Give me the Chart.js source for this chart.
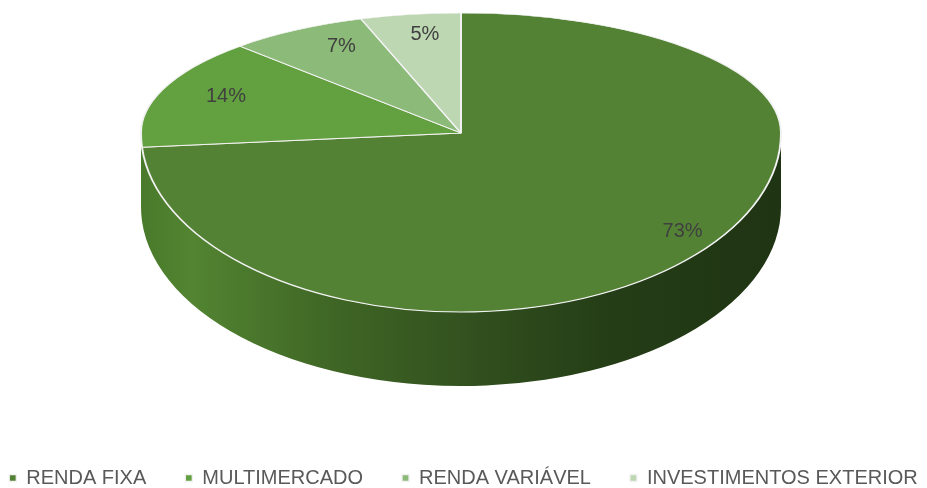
<!DOCTYPE html>
<html>
<head>
<meta charset="utf-8">
<script src="https://cdn.jsdelivr.net/npm/chart.js@4.4.1/dist/chart.umd.min.js"></script>
<style>
html,body{margin:0;padding:0;background:#ffffff;}
#wrap{width:927px;height:488px;position:relative;}
</style>
</head>
<body>
<div id="wrap"><canvas id="c"></canvas></div>
<script>
// ---- data ----
const categories = ['RENDA FIXA', 'MULTIMERCADO', 'RENDA VARIÁVEL', 'INVESTIMENTOS EXTERIOR'];
const shares = [73, 14, 7, 5];
const sliceColors = ['#548235', '#63a03f', '#8cba78', '#bdd7b3'];
const sideColors = ['#2f4d1d', '#4c7d2d', '#6f9a5e', '#9bb891'];

// ---- 3D look (geometry of the tilted disc) ----
const CX = 461, CY = 133, RX = 320, RY_UP = 120, RY_DOWN = 179, DEPTH = 74;

function sideFill(ctx, i) {
  if (i !== 0) return sideColors[i];
  const g = ctx.createLinearGradient(CX - RX, 0, CX + RX, 0);
  g.addColorStop(0, '#497a2b');
  g.addColorStop(0.08, '#528431');
  g.addColorStop(0.3, '#3f6625');
  g.addColorStop(0.5, '#33521f');
  g.addColorStop(0.72, '#253e17');
  g.addColorStop(1, '#1f3413');
  return g;
}

const pie3d = {
  id: 'pie3d',
  beforeDatasetsDraw(chart) {
    const ctx = chart.ctx;
    const meta = chart.getDatasetMeta(0);
    const a0 = meta.data[0];
    const R = a0.outerRadius, ox = a0.x, oy = a0.y;
    const W = chart.width, H = chart.height;

    // side wall (front half only: angles 0..PI)
    meta.data.forEach((arc, i) => {
      const s = Math.max(arc.startAngle, 0);
      const e = Math.min(arc.endAngle, Math.PI);
      if (e <= s) return;
      ctx.save();
      ctx.beginPath();
      ctx.ellipse(CX, CY, RX, RY_DOWN, 0, s, e, false);
      ctx.ellipse(CX, CY + DEPTH, RX, RY_DOWN, 0, e, s, true);
      ctx.closePath();
      ctx.fillStyle = sideFill(ctx, i);
      ctx.fill();
      ctx.restore();
    });

    // top face: far half and near half drawn by the library with different tilt
    const halves = [[0, CY, RY_UP], [CY, H - CY, RY_DOWN]];
    halves.forEach(([top, h, ry]) => {
      ctx.save();
      ctx.beginPath();
      ctx.rect(0, top, W, h);
      ctx.clip();
      ctx.translate(CX, CY);
      ctx.scale(RX / R, ry / R);
      ctx.translate(-ox, -oy);
      meta.controller.draw();
      ctx.restore();
    });

    // data labels
    ctx.save();
    ctx.font = '20px "Liberation Sans", Arial, sans-serif';
    ctx.fillStyle = '#404040';
    ctx.textAlign = 'center';
    ctx.textBaseline = 'middle';
    meta.data.forEach((arc, i) => {
      const t = (arc.startAngle + arc.endAngle) / 2;
      const r = 0.85;
      const u = r * Math.cos(t), v = r * Math.sin(t);
      const w = 1 - 0.2 * v;
      const x = CX + 314 * u / w;
      const y = CY + 5 + 143.6 * v / w;
      ctx.fillText(shares[i] + '%', x, y);
    });
    ctx.restore();
    return false;
  }
};

new Chart(document.getElementById('c'), {
  type: 'pie',
  data: {
    labels: categories,
    datasets: [{
      data: shares,
      backgroundColor: sliceColors,
      borderColor: '#f2f2f2',
      borderWidth: 1.3
    }]
  },
  options: {
    responsive: true,
    maintainAspectRatio: false,
    animation: false,
    events: [],
    layout: { padding: { left: -30, right: -30, top: 0, bottom: -10 } },
    plugins: {
      legend: {
        position: 'bottom',
        labels: {
          boxWidth: 7,
          boxHeight: 7,
          padding: 39,
          color: '#595959',
          font: { family: '"Liberation Sans", Arial, sans-serif', size: 20 }
        }
      },
      tooltip: { enabled: false }
    }
  },
  plugins: [pie3d]
});
</script>
</body>
</html>
